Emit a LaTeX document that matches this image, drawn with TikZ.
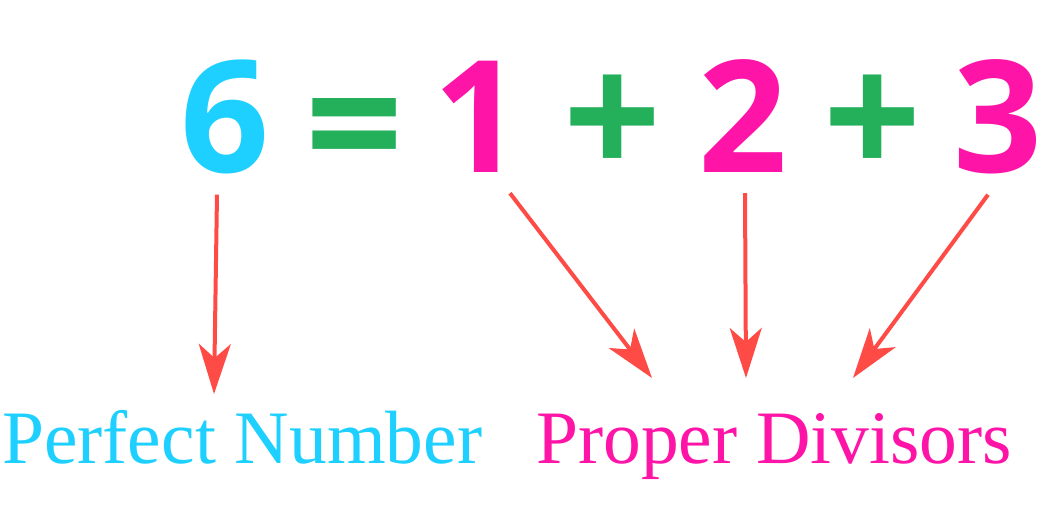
\documentclass[tikz,border=0pt]{standalone}
\usepackage{fontspec}
\setmainfont{Liberation Serif}
\newfontfamily\digitfont{Open Sans}
\usetikzlibrary{arrows.meta}
\definecolor{sixcyan}{RGB}{30,208,255}
\definecolor{opgreen}{RGB}{36,176,90}
\definecolor{divpink}{RGB}{255,20,168}
\definecolor{arrowred}{RGB}{255,75,70}
\tikzset{
	digit/.style={inner sep=0pt, anchor=base, font=\digitfont\bfseries\fontsize{156}{156}\selectfont},
	operator/.style={inner sep=0pt, anchor=center, text=opgreen, font=\digitfont\bfseries\fontsize{172}{172}\selectfont},
	label/.style={inner sep=0pt, anchor=base west, font=\fontsize{75.5}{75.5}\selectfont},
	pointer/.style={line width=4pt, color=arrowred, -{Stealth[length=50pt, width=32pt, inset=14pt]}}
}

\begin{document}
\begin{tikzpicture}[x=1pt, y=-1pt]
		%%%%% START %%%%%
		\useasboundingbox (0, 0) rectangle (1042, 508);
		
		\node[digit, text=sixcyan] (six) at (225, 172) {6};
		\node[operator] (eq) at (355, 142) {=};
		\node[digit, text=divpink] (one) at (478, 172) {1};
		\node[operator] (plusA) at (613, 126) {+};
		\node[digit, text=divpink] (two) at (743, 172) {2};
		\node[operator] (plusB) at (873, 126) {+};
		\node[digit, text=divpink] (three) at (998, 172) {3};
		
		\node[label, text=sixcyan] (perfect) at (2, 463) {Perfect Number};
		\node[label, text=divpink] (divisors) at (536, 463) {Proper Divisors};
		
		\coordinate (tipsix) at (214, 394);
		\coordinate (tipone) at (652, 378);
		\coordinate (tiptwo) at (746, 378);
		\coordinate (tipthree) at (853, 378);
		
		\draw[pointer] ([xshift=-8pt, yshift=-21pt]six.south) -- (tipsix);
		\draw[pointer] ([xshift=32pt, yshift=-21pt]one.south) -- (tipone);
		\draw[pointer] ([xshift=2pt, yshift=-21pt]two.south) -- (tiptwo);
		\draw[pointer] ([xshift=-10pt, yshift=-21pt]three.south) -- (tipthree);
		
		%%%%% END %%%%%
	\end{tikzpicture}
\end{document}
